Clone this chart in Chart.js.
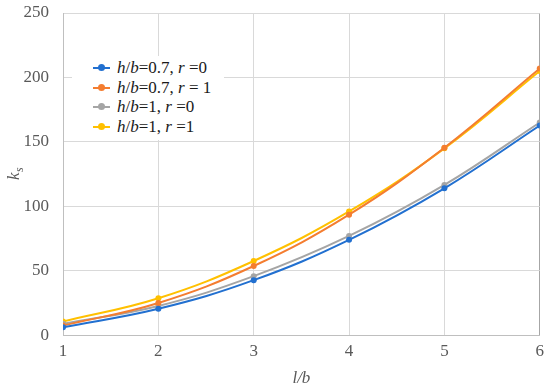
<!DOCTYPE html>
<html>
<head>
<meta charset="utf-8">
<script src="https://cdn.jsdelivr.net/npm/chart.js@4/dist/chart.umd.min.js"></script>
<style>
  html, body { margin: 0; padding: 0; background: #fff; }
  #wrap { position: relative; width: 550px; height: 389px; }
  #legend { position: absolute; left: 72px; top: 56px; width: 152px; height: 84px; background: #fff; color: #1a1a1a;
    font-family: 'Liberation Serif', 'Times New Roman', serif; font-size: 17px; }
  .row { position: absolute; left: 0; height: 20px; line-height: 20px; white-space: nowrap; }
  .mk { position: absolute; left: 21px; top: 9px; width: 17px; height: 2px; }
  .dot { position: absolute; left: 5px; top: -3px; width: 7px; height: 7px; border-radius: 50%; }
  .txt { position: absolute; left: 45px; top: 0; }
</style>
</head>
<body>
<div id="wrap">
  <canvas id="c" width="550" height="389"></canvas>
  <div id="legend"></div>
</div>
<script>
// значения
const xValues = [1, 2, 3, 4, 5, 6];
const seriesNames = ['h/b=0.7, r =0', 'h/b=0.7, r = 1', 'h/b=1, r =0', 'h/b=1, r =1'];
const blueVals = [6.2, 20.5, 42.7, 74, 114, 162.7];
const orangeVals = [7.5, 25, 53.7, 93.5, 145.5, 207];
const grayVals = [8.8, 22.7, 45.8, 77, 116.6, 165];
const yellowVals = [10.7, 28.7, 57.6, 96, 145, 205];
const yTicks = [0, 50, 100, 150, 200, 250];
const colors = ['#2270d0', '#f47d30', '#a5a5a5', '#ffc000'];

const allVals = [blueVals, orangeVals, grayVals, yellowVals];
const FONT = 'Liberation Serif, Times New Roman, serif';

// легенда: h, b, r курсивом
function fmt(s) {
    return s.replace(/[hbr]/g, m => '<i>' + m + '</i>');
}
document.getElementById('legend').innerHTML = seriesNames.map((n, i) => `
    <div class="row" style="top:${2 + i * 19.7}px">
      <div class="mk" style="background:${colors[i]}"><div class="dot" style="background:${colors[i]}"></div></div>
      <span class="txt">${fmt(n)}</span>
    </div>`).join('');

// подпись оси Y: k с индексом s
const yTitle = {
    id: 'yTitle',
    afterDraw(chart) {
        const c = chart.ctx;
        const mid = (chart.chartArea.top + chart.chartArea.bottom) / 2;
        c.save();
        c.translate(19, mid);
        c.rotate(-Math.PI / 2);
        c.fillStyle = '#595959';
        c.font = 'italic 17px ' + FONT;
        c.fillText('k', -6, 0);
        c.font = 'italic 12px ' + FONT;
        c.fillText('s', 2, 4);
        c.restore();
    }
};

function drawChart() {
    new Chart(document.getElementById('c'), {
        type: 'line',
        data: {
            datasets: allVals.map((vals, i) => ({
                label: seriesNames[i],
                data: xValues.map((x, j) => ({ x: x, y: vals[j] })),
                borderColor: colors[i],
                backgroundColor: colors[i],
                borderWidth: 2,
                pointRadius: 3,
                pointBorderWidth: 0,
                tension: 0.4,
                fill: false
            }))
        },
        options: {
            responsive: false,
            animation: false,
            layout: { padding: { top: 13, right: 10, left: 0, bottom: 0 } },
            plugins: { legend: { display: false }, tooltip: { enabled: false } },
            scales: {
                x: {
                    type: 'linear', min: 1, max: 6,
                    ticks: { stepSize: 1, padding: 6, color: '#595959', font: { family: FONT, size: 17 } },
                    grid: { color: c => c.tick && c.tick.value === 6 ? '#a6a6a6' : '#d9d9d9', drawTicks: false },
                    border: { color: '#bfbfbf' },
                    title: { display: true, text: 'l/b', color: '#595959', padding: { top: 1, bottom: 0 },
                        font: { family: FONT, size: 17, style: 'italic' } }
                },
                y: {
                    min: 0, max: 250,
                    afterBuildTicks: axis => { axis.ticks = yTicks.map(v => ({ value: v })); },
                    afterFit: axis => {
                        axis.width = 63;
                        // паддинг тиков не должен сдвигать область графика
                        axis.paddingTop = 0;
                        axis.paddingBottom = 0;
                    },
                    ticks: { padding: 14, color: '#595959', font: { family: FONT, size: 17 } },
                    grid: { color: '#d9d9d9', drawTicks: false },
                    border: { color: '#bfbfbf' }
                }
            }
        },
        plugins: [yTitle]
    });
}

if (document.fonts && document.fonts.load) {
    document.fonts.load('17px "Liberation Serif"').then(drawChart, drawChart);
} else {
    drawChart();
}
</script>
</body>
</html>
